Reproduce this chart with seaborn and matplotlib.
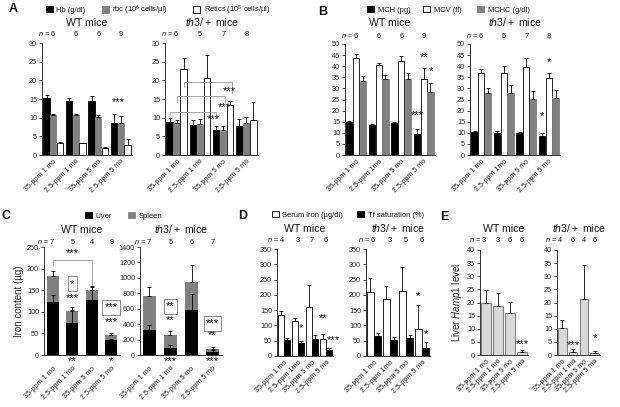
import numpy as np
import pandas as pd
import seaborn as sns
import matplotlib.pyplot as plt
from matplotlib.patches import Patch
from matplotlib.transforms import blended_transform_factory

W, H = 620, 407

groups = ["35-ppm 1 mo", "2.5-ppm 1 mo", "35-ppm 5 mo", "2.5-ppm 5 mo"]
groups_b = ["35-ppm 1 mo", "2.5-ppm 1mo", "35-ppm 5 mo", "2.5-ppm 5 mo"]

# A: Hb (g/dl), rbc, retics (10^6 cells/ul)
a_wt_hb = [15.3, 14.5, 14.5, 8.6]
a_wt_hb_err = [0.8, 0.8, 1.3, 2.5]
a_wt_rbc = [10.6, 10.6, 10.3, 8.7]
a_wt_rbc_err = [0.5, 0.4, 0.4, 1.8]
a_wt_ret = [3.2, 3.1, 1.9, 2.8]
a_wt_ret_err = [0.4, 0.2, 0.3, 1.6]
a_th_hb = [8.9, 8.1, 6.8, 7.7]
a_th_hb_err = [0.9, 1.4, 1.0, 1.9]
a_th_rbc = [8.7, 8.2, 6.7, 8.6]
a_th_rbc_err = [0.6, 1.4, 1.1, 1.7]
a_th_ret = [23.0, 20.7, 13.4, 9.5]
a_th_ret_err = [3.0, 6.2, 1.0, 4.8]

# B: MCH (pg), MCV (fl), MCHC (g/dl)
b_wt_mch = [14.7, 13.7, 14.6, 9.5]
b_wt_mch_err = [0.5, 0.4, 0.4, 2.0]
b_wt_mcv = [43.5, 40.5, 42.3, 34.2]
b_wt_mcv_err = [2.0, 1.0, 2.2, 5.2]
b_wt_mchc = [33.5, 34.2, 34.1, 28.5]
b_wt_mchc_err = [2.0, 1.8, 3.0, 3.8]
b_th_mch = [10.5, 9.8, 10.1, 8.7]
b_th_mch_err = [0.3, 1.2, 0.3, 1.0]
b_th_mcv = [37.1, 37.1, 39.8, 34.5]
b_th_mcv_err = [1.5, 2.8, 4.0, 2.6]
b_th_mchc = [28.1, 28.1, 25.1, 25.5]
b_th_mchc_err = [2.2, 3.4, 3.8, 4.0]

# C: iron content, liver and liver+spleen (stacked)
c_wt_liver = [123, 74, 127, 35]
c_wt_liver_err = [17, 30, 31, 3]
c_wt_total = [183, 102, 150, 46]
c_wt_total_err = [12, 8, 10, 5]
c_th_liver = [320, 85, 580, 40]
c_th_liver_err = [70, 45, 215, 20]
c_th_total = [765, 265, 945, 75]
c_th_total_err = [120, 45, 220, 25]

# D: serum iron (ug/dl), Tf saturation (%)
d_wt_serum = [133, 113, 159, 55]
d_wt_serum_err = [15, 12, 72, 17]
d_wt_tf = [53, 41, 55, 19]
d_wt_tf_err = [5, 7, 13, 6]
d_th_serum = [210, 186, 212, 87]
d_th_serum_err = [45, 43, 80, 80]
d_th_tf = [64, 52, 58, 25]
d_th_tf_err = [11, 11, 12, 21]

# E: liver Hamp1
e_wt = [19.7, 18.5, 15.9, 1.3]
e_wt_err = [4.9, 5.0, 4.4, 0.6]
e_th = [10.4, 1.1, 21.4, 0.8]
e_th_err = [2.8, 1.2, 12.9, 0.6]

n_a_wt, n_a_th = [6, 6, 6, 9], [6, 5, 7, 8]
n_c_wt, n_c_th = [7, 5, 4, 9], [7, 5, 6, 7]
n_d_wt, n_d_th = [4, 3, 7, 6], [6, 3, 5, 6]
n_e_wt, n_e_th = [3, 3, 6, 6], [4, 6, 4, 6]

sns.set_style("ticks")
plt.rcParams["font.family"] = ["Liberation Sans", "DejaVu Sans"]
plt.rcParams["mathtext.fontset"] = "custom"
plt.rcParams["mathtext.rm"] = "Liberation Sans"
plt.rcParams["mathtext.it"] = "Liberation Sans:italic"
plt.rcParams["text.color"] = "#111111"

fig = plt.figure(figsize=(6.2, 4.07), dpi=100)


def px_axes(l, t, r, b):
    return fig.add_axes([l / W, 1 - b / H, (r - l) / W, (b - t) / H])


def style(ax, cats, ymax, step, xlim=(-0.5, 3.5), xpad=2):
    ax.set_ylim(0, ymax)
    ax.set_yticks(np.arange(0, ymax + step, step))
    ax.set_xlim(*xlim)
    ax.set_xticks(range(len(cats)))
    ax.set_xticklabels(cats, rotation=45, ha="right", rotation_mode="anchor")
    ax.tick_params(axis="y", length=2, width=0.6, labelsize=5.2, pad=1.5)
    ax.tick_params(axis="x", length=0, labelsize=5.2, pad=xpad)
    ax.set_xlabel("")
    ax.set_ylabel("")
    sns.despine(ax=ax)
    for s in ("left", "bottom"):
        ax.spines[s].set_color("#333333")
        ax.spines[s].set_linewidth(0.7)


def add_err(ax, cont, err):
    xs = [p.get_x() + p.get_width() / 2 for p in cont]
    ys = [p.get_y() + p.get_height() for p in cont]
    ax.errorbar(xs, ys, yerr=[np.zeros(len(err)), err], fmt="none", ecolor="black",
                elinewidth=0.6, capsize=1.6, capthick=0.6)
    return xs


def grouped(ax, cats, names, series, errs, colors, edges, width=0.9):
    df = pd.DataFrame({"group": np.tile(cats, len(names)),
                       "measure": np.repeat(names, len(cats)),
                       "value": np.concatenate(series)})
    sns.barplot(data=df, x="group", y="value", hue="measure", order=cats, hue_order=names,
                palette=dict(zip(names, colors)), width=width, gap=0.04, saturation=1,
                errorbar=None, legend=False, linewidth=0.6, ax=ax)
    xs = []
    for cont, err, ec in zip(ax.containers, errs, edges):
        for p in cont:
            p.set_edgecolor(ec)
        xs.append(add_err(ax, cont, err))
    return xs


def stacked(ax, cats, total, total_err, liver, liver_err):
    sns.barplot(x=cats, y=total, color="#808080", width=0.6, saturation=1, linewidth=0, ax=ax)
    sns.barplot(x=cats, y=liver, color="black", width=0.6, saturation=1, linewidth=0, ax=ax)
    add_err(ax, ax.containers[0], total_err)
    add_err(ax, ax.containers[1], liver_err)


def star(ax, x, y, s, boxed=False, size=8):
    bbox = dict(boxstyle="square,pad=0.2", fc="white", ec="#777777", lw=0.6) if boxed else None
    ax.text(x, y, s, ha="center", va="center", fontsize=size, bbox=bbox, clip_on=False)


def star_below(ax, x, s):
    tr = blended_transform_factory(ax.transData, ax.transAxes)
    ax.text(x, -0.055, s, ha="center", va="center", fontsize=8, transform=tr, clip_on=False)


def title(ax, text, off):
    ax.annotate(text, xy=(0.5, 1), xycoords="axes fraction", xytext=(0, off),
                textcoords="offset points", ha="center", va="baseline", fontsize=7.6)


def n_row(ax, ns, off):
    tr = blended_transform_factory(ax.transData, ax.transAxes)
    for i, n in enumerate(ns):
        if i == 0:
            ax.annotate(f"$n$ = {n}", xy=(i + 0.12, 1), xycoords=tr, xytext=(0, off),
                        textcoords="offset points", ha="right", va="baseline", fontsize=5.3)
        else:
            ax.annotate(str(n), xy=(i, 1), xycoords=tr, xytext=(0, off),
                        textcoords="offset points", ha="center", va="baseline", fontsize=5.3)


def bracket(ax, x0, x1, y, y0, y1):
    ax.plot([x0, x0, x1, x1], [y0, y, y, y1], color="#999999", lw=0.6, clip_on=False)


def legend_item(label, fc, x, y, ec="black"):
    fig.legend(handles=[Patch(facecolor=fc, edgecolor=ec, linewidth=0.6)], labels=[label],
               loc="center left", bbox_to_anchor=(x / W, 1 - y / H), frameon=False,
               fontsize=5.4, handlelength=0.9, handleheight=0.9, handletextpad=0.5,
               borderpad=0, borderaxespad=0)


def letter(s, x, y):
    fig.text(x / W, 1 - y / H, s, fontsize=9, fontweight="bold", ha="left", va="center")


wt_title = "WT mice"
th_title = r"$\mathit{th3/+}$ mice"

# ---- A ----
ax = px_axes(42, 43, 132, 155)
xs = grouped(ax, groups, ["Hb", "rbc", "Retics"], [a_wt_hb, a_wt_rbc, a_wt_ret],
             [a_wt_hb_err, a_wt_rbc_err, a_wt_ret_err], ["black", "#808080", "white"],
             ["black", "#808080", "black"])
style(ax, groups, 30, 5)
title(ax, wt_title, 12)
n_row(ax, n_a_wt, 5)
star(ax, xs[1][3] - 0.1, 14.3, "***")

ax = px_axes(165, 43, 258, 155)
xs = grouped(ax, groups, ["Hb", "rbc", "Retics"], [a_th_hb, a_th_rbc, a_th_ret],
             [a_th_hb_err, a_th_rbc_err, a_th_ret_err], ["black", "#808080", "white"],
             ["black", "#808080", "black"])
style(ax, groups, 30, 5)
title(ax, th_title, 12)
n_row(ax, n_a_th, 5)
bracket(ax, xs[0][0], xs[0][2], 11.5, 10.6, 9.8)
bracket(ax, xs[1][0], xs[1][2] + 0.1, 15.7, 14.3, 13.9)
bracket(ax, xs[2][0], xs[2][2] + 0.1, 19.5, 18.3, 16.6)
star(ax, xs[0][2] - 0.1, 9.6, "***")
star(ax, xs[1][2] + 0.05, 12.9, "***")
star(ax, xs[2][2] - 0.05, 17.2, "***")

legend_item("Hb (g/dl)", "black", 46, 10)
legend_item("rbc (10$^6$ cells/µl)", "#808080", 102, 10, ec="#808080")
legend_item("Retics (10$^6$ cells/µl)", "white", 193, 10)

# ---- B ----
ax = px_axes(345, 44, 435, 155)
xs = grouped(ax, groups_b, ["MCH", "MCV", "MCHC"], [b_wt_mch, b_wt_mcv, b_wt_mchc],
             [b_wt_mch_err, b_wt_mcv_err, b_wt_mchc_err], ["black", "white", "#808080"],
             ["black", "black", "#808080"])
style(ax, groups_b, 50, 5)
title(ax, wt_title, 13)
n_row(ax, n_a_wt, 4)
star(ax, xs[1][3], 44.0, "**")
star(ax, xs[2][3], 38.0, "*")
star(ax, xs[0][3], 18.0, "***")

ax = px_axes(470, 44, 560, 155)
xs = grouped(ax, groups_b, ["MCH", "MCV", "MCHC"], [b_th_mch, b_th_mcv, b_th_mchc],
             [b_th_mch_err, b_th_mcv_err, b_th_mchc_err], ["black", "white", "#808080"],
             ["black", "black", "#808080"])
style(ax, groups_b, 50, 5)
title(ax, th_title, 13)
n_row(ax, n_a_th, 4)
star(ax, xs[1][3], 42.0, "*")
star(ax, xs[0][3], 17.5, "*")

legend_item("MCH (pg)", "black", 367, 10)
legend_item("MCV (fl)", "white", 423, 10)
legend_item("MCHC (g/dl)", "#808080", 477, 10, ec="#808080")

# ---- C ----
ax = px_axes(44, 247, 120, 355)
stacked(ax, groups, c_wt_total, c_wt_total_err, c_wt_liver, c_wt_liver_err)
style(ax, groups, 250, 50, xlim=(-0.45, 3.45), xpad=7)
ax.set_ylabel("Iron content (µg)", fontsize=7, labelpad=2)
title(ax, wt_title, 10)
n_row(ax, n_c_wt, 2)
bracket(ax, 0, 2, 220, 207, 163)
star(ax, 1, 236, "***")
star(ax, 1, 165, "*", boxed=True)
star(ax, 1, 132, "***")
star(ax, 3, 110, "***", boxed=True)
star(ax, 3, 77, "***")
star_below(ax, 1, "**")
star_below(ax, 3, "*")

ax = px_axes(140, 247, 222, 355)
stacked(ax, groups, c_th_total, c_th_total_err, c_th_liver, c_th_liver_err)
style(ax, groups, 1400, 200, xlim=(-0.45, 3.45), xpad=7)
title(ax, th_title, 10)
n_row(ax, n_c_th, 2)
star(ax, 1, 630, "**", boxed=True)
star(ax, 1, 450, "**")
star(ax, 3, 410, "***", boxed=True)
star(ax, 3, 255, "**")
star_below(ax, 1, "***")
star_below(ax, 3, "***")

legend_item("Liver", "black", 85, 216)
legend_item("Spleen", "#808080", 128, 216, ec="#808080")

# ---- D ----
ax = px_axes(277, 249, 333, 356)
xs = grouped(ax, groups_b, ["Serum", "Tf"], [d_wt_serum, d_wt_tf],
             [d_wt_serum_err, d_wt_tf_err], ["white", "black"], ["black", "black"])
style(ax, groups_b, 350, 50)
title(ax, wt_title, 12)
n_row(ax, n_d_wt, 5)
star(ax, xs[1][1], 92, "*")
star(ax, xs[0][3], 123, "**")
star(ax, xs[1][3] + 0.3, 52, "***")

ax = px_axes(366, 249, 430, 356)
xs = grouped(ax, groups_b, ["Serum", "Tf"], [d_th_serum, d_th_tf],
             [d_th_serum_err, d_th_tf_err], ["white", "black"], ["black", "black"])
style(ax, groups_b, 350, 50)
title(ax, th_title, 12)
n_row(ax, n_d_th, 5)
star(ax, xs[0][3], 195, "*")
star(ax, xs[1][3], 72, "*")

legend_item("Serum iron (µg/dl)", "white", 272, 215)
legend_item("Tf saturation (%)", "black", 357, 215)

# ---- E ----
ax = px_axes(480, 250, 528, 355)
sns.barplot(x=groups, y=e_wt, color="#d9d9d9", edgecolor="#808080", linewidth=0.8,
            width=0.8, saturation=1, ax=ax)
add_err(ax, ax.containers[0], e_wt_err)
style(ax, groups, 40, 5)
ax.set_ylabel(r"Liver $\mathit{Hamp1}$ level", fontsize=7, labelpad=2)
title(ax, wt_title, 13)
n_row(ax, n_e_wt, 6)
star(ax, 3, 4.0, "***")

ax = px_axes(557, 250, 600, 355)
sns.barplot(x=groups, y=e_th, color="#d9d9d9", edgecolor="#808080", linewidth=0.8,
            width=0.8, saturation=1, ax=ax)
add_err(ax, ax.containers[0], e_th_err)
style(ax, groups, 40, 5)
title(ax, th_title, 13)
n_row(ax, n_e_th, 6)
star(ax, 1, 3.6, "***")
star(ax, 3, 6.5, "*")

letter("A", 9, 9)
letter("B", 318, 12)
letter("C", 2, 216)
letter("D", 238, 216)
letter("E", 440, 217)

fig.savefig("out.png", dpi=100)
